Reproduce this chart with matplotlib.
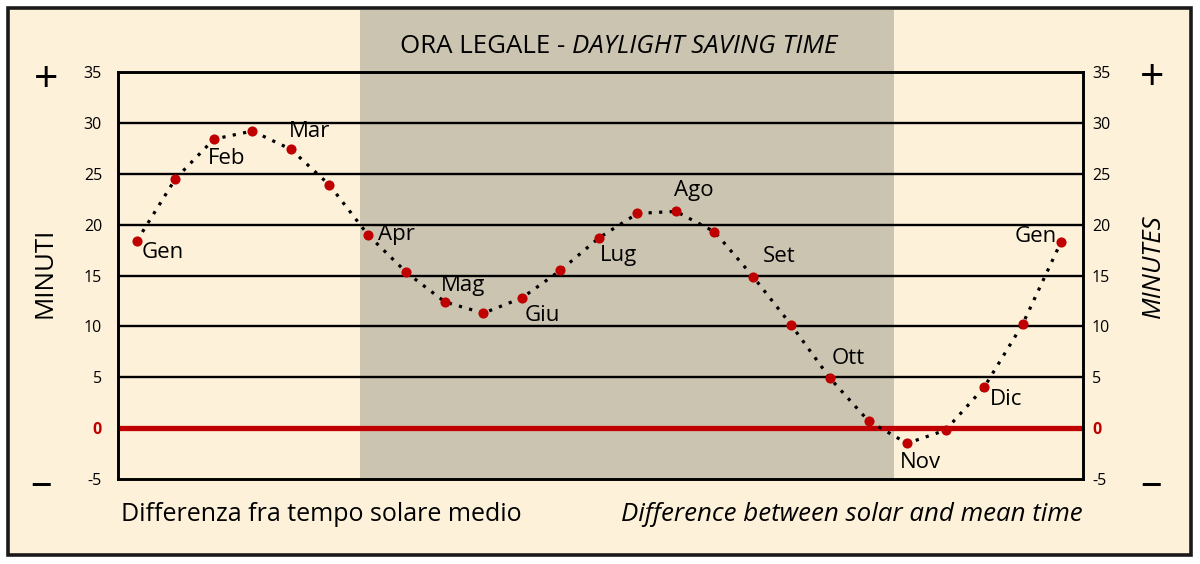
import matplotlib.pyplot as plt
from matplotlib.patches import Rectangle
from matplotlib.transforms import blended_transform_factory

# equation of time, read on the 1st and 15th of each month (Gen .. Gen)
diff_minutes = [18.4, 24.5, 28.4, 29.2, 27.4, 23.9, 19.0, 15.3, 12.4, 11.3,
                12.8, 15.5, 18.7, 21.1, 21.3, 19.3, 14.9, 10.1, 4.9, 0.7,
                -1.5, -0.2, 4.0, 10.2, 18.3]
month_names = ['Gen', 'Feb', 'Mar', 'Apr', 'Mag', 'Giu', 'Lug',
               'Ago', 'Set', 'Ott', 'Nov', 'Dic', 'Gen']
month_points = list(range(0, 25, 2))
# daylight saving period, in the same half-month steps
dst_start, dst_end = 5.79, 19.66
y_ticks = [-5, 0, 5, 10, 15, 20, 25, 30, 35]

# label offsets (pixels) and alignment for each month name
label_style = [(5, -12, 'left'), (-6, -19, 'left'), (-2, 18, 'left'),
               (10, 0, 'left'), (-4, 16, 'left'), (3, -18, 'left'),
               (1, -18, 'left'), (-2, 21, 'left'), (10, 20, 'left'),
               (2, 20, 'left'), (-7, -19, 'left'), (6, -12, 'left'),
               (-4, 5, 'right')]

W, H = 1200, 564
cream = '#fdf1da'
shade = '#cbc4b1'
red = '#c00000'

plt.rcParams['font.family'] = ['Open Sans', 'DejaVu Sans']
plt.rcParams['axes.unicode_minus'] = False

fig = plt.figure(figsize=(W / 100, H / 100), dpi=100, facecolor='white')
fig.patches.append(Rectangle((8 / W, 1 - 555 / H), 1183 / W, 547 / H,
                             transform=fig.transFigure, fc=cream,
                             ec='#1a1a1a', lw=2.6, zorder=-1))

ax = fig.add_axes([118 / W, 1 - 479 / H, (1083 - 118) / W, (479 - 72) / H])
ax.patch.set_visible(False)
ax.set_xlim(-0.49, 24.57)
ax.set_ylim(-5, 35)

trans = blended_transform_factory(ax.transData, fig.transFigure)
ax.add_patch(Rectangle((dst_start, 1 - 479 / H), dst_end - dst_start,
                       (479 - 10) / H, transform=trans, fc=shade, lw=0,
                       clip_on=False, zorder=0))

for v in y_ticks[2:]:
    ax.axhline(v, color='black', lw=1.7, zorder=1)
ax.axhline(0, color=red, lw=3.8, zorder=2)

xs = list(range(len(diff_minutes)))
ax.plot(xs, diff_minutes, color='black', lw=2.3, ls=(0, (1, 2.3)), zorder=3)
ax.plot(xs, diff_minutes, 'o', color=red, ms=7.3, mec='none', zorder=4)

for name, i, (dx, dy, ha) in zip(month_names, month_points, label_style):
    ax.annotate(name, (i, diff_minutes[i]), xytext=(dx, dy),
                textcoords='offset pixels', ha=ha, va='center',
                fontsize=16, zorder=5)

ax.set_xticks([])
ax.set_yticks(y_ticks)
ax.tick_params(axis='y', length=0, pad=11.5, labelsize=11.5)
for sp in ax.spines.values():
    sp.set_linewidth(2.1)
    sp.set_color('black')

ax2 = ax.twinx()
ax2.set_ylim(ax.get_ylim())
ax2.set_yticks(y_ticks)
ax2.tick_params(axis='y', length=0, pad=6.5, labelsize=11.5)
for sp in ax2.spines.values():
    sp.set_visible(False)

for a in (ax, ax2):
    lab = a.get_yticklabels()[1]
    lab.set_color(red)
    lab.set_fontweight('bold')

# header and footer texts
fs = 18.6
t1 = fig.text(400 / W, 1 - 53 / H, 'ORA LEGALE - ', fontsize=fs,
              va='baseline', ha='left')
fig.canvas.draw()
bb = t1.get_window_extent()
fig.text(bb.x1 / W, 1 - 53 / H, 'DAYLIGHT SAVING TIME', fontsize=fs,
         style='italic', va='baseline', ha='left')

fig.text(121 / W, 1 - 521 / H, 'Differenza fra tempo solare medio',
         fontsize=18.0, va='baseline', ha='left')
fig.text(1083 / W, 1 - 521 / H, 'Difference between solar and mean time',
         fontsize=fs, style='italic', va='baseline', ha='right')

fig.text(45 / W, 1 - 273 / H, 'MINUTI', rotation=90, fontsize=fs,
         va='center', ha='center')
fig.text(1153 / W, 1 - 266 / H, 'MINUTES', rotation=90, fontsize=fs,
         style='italic', va='center', ha='center')

for x, y, s in [(46, 75, '+'), (1152, 73, '+'), (41, 479, '\u2013'),
                (1151, 479, '\u2013')]:
    fig.text(x / W, 1 - y / H, s, fontsize=31, va='center_baseline',
             ha='center')

fig.savefig('out.png', dpi=100)
